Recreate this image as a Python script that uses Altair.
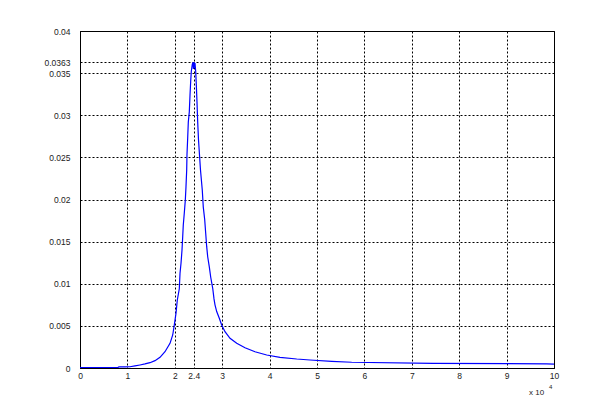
import altair as alt
import pandas as pd

# x in units of 1e4, y raw
x_vals = [0.0, 0.42, 0.80, 0.82, 0.95, 1.055, 1.16, 1.266, 1.371, 1.477, 1.582, 1.688,
          1.793, 1.899, 1.956, 1.989, 2.025, 2.053, 2.095, 2.110, 2.131, 2.152, 2.167,
          2.179, 2.200, 2.222, 2.236, 2.251, 2.257, 2.272, 2.285, 2.306, 2.321, 2.335,
          2.348, 2.369, 2.385, 2.392, 2.398, 2.405, 2.412, 2.419, 2.426,
          2.441, 2.454, 2.468, 2.483, 2.500, 2.542, 2.580, 2.601, 2.631, 2.652, 2.673,
          2.694, 2.728, 2.757, 2.800, 2.827, 2.848, 2.884, 2.939, 2.989, 3.059, 3.165,
          3.306, 3.481, 3.692, 3.939, 4.219, 4.572, 4.852, 5.310, 5.732, 7.454, 9.846, 10.0]
y_vals = [0.00005, 0.00005, 0.00006, 0.00013, 0.00013, 0.00015, 0.00025, 0.00036, 0.00048,
          0.00063, 0.00087, 0.00127, 0.00193, 0.00293, 0.00392, 0.00510, 0.00649, 0.00807,
          0.00940, 0.01124, 0.01243, 0.01400, 0.01560, 0.01697, 0.01836, 0.01994, 0.02150,
          0.02350, 0.02530, 0.02730, 0.02920, 0.03040, 0.03240, 0.03400, 0.03520, 0.03605,
          0.03630, 0.03550, 0.03630, 0.03560, 0.03630, 0.03560, 0.03620,
          0.03520, 0.03360, 0.03160, 0.02920, 0.02710, 0.02350, 0.02110, 0.01910, 0.01760,
          0.01600, 0.01440, 0.01320, 0.01200, 0.01080, 0.00946, 0.00820, 0.00750, 0.00670,
          0.00590, 0.00510, 0.00431, 0.00352, 0.00293, 0.00241, 0.00193, 0.00154, 0.00127,
          0.00107, 0.00095, 0.00079, 0.00068, 0.00056, 0.00050, 0.00047]

x_ticks = [0, 1, 2, 2.4, 3, 4, 5, 6, 7, 8, 9, 10]
y_ticks = [0, 0.005, 0.01, 0.015, 0.02, 0.025, 0.03, 0.035, 0.0363, 0.04]

df = pd.DataFrame({"x": x_vals, "y": y_vals})

line = alt.Chart(df).mark_line(color="#0000ff", strokeWidth=1.2, clip=True).encode(
    x=alt.X("x:Q", scale=alt.Scale(domain=[0, 10], nice=False, zero=False),
            axis=alt.Axis(values=x_ticks, labelExpr="'' + datum.value", title=None,
                          labelFlush=False, labelOverlap=False, labelPadding=3)),
    y=alt.Y("y:Q", scale=alt.Scale(domain=[0, 0.04], nice=False, zero=False),
            axis=alt.Axis(values=y_ticks, labelExpr="'' + datum.value", title=None,
                          labelFlush=False, labelOverlap=False, labelPadding=10)),
)

one = pd.DataFrame({"a": [0]})
exp_base = alt.Chart(one).mark_text(text="x 10", align="left", baseline="middle",
                                    fontSize=8, font="Liberation Sans", color="#222").encode(
    x=alt.value(449), y=alt.value(362))
exp_sup = alt.Chart(one).mark_text(text="4", align="left", baseline="middle",
                                   fontSize=6, font="Liberation Sans", color="#222").encode(
    x=alt.value(469), y=alt.value(356))

chart = alt.layer(line, exp_base, exp_sup).properties(
    width=474, height=337,
    autosize=alt.AutoSizeParams(type="none"),
    padding={"left": 72, "top": 23, "right": 50, "bottom": 37},
    background="white",
).configure_view(stroke="black", strokeWidth=1).configure_axis(
    domainColor="black", domainWidth=1,
    grid=True, gridColor="black", gridDash=[2, 2], gridOpacity=1, gridWidth=1,
    ticks=False,
    labelFont="Liberation Sans", labelFontSize=8.5, labelColor="#222",
)

chart.save("out.html", embed_options={"renderer": "svg", "actions": False})
